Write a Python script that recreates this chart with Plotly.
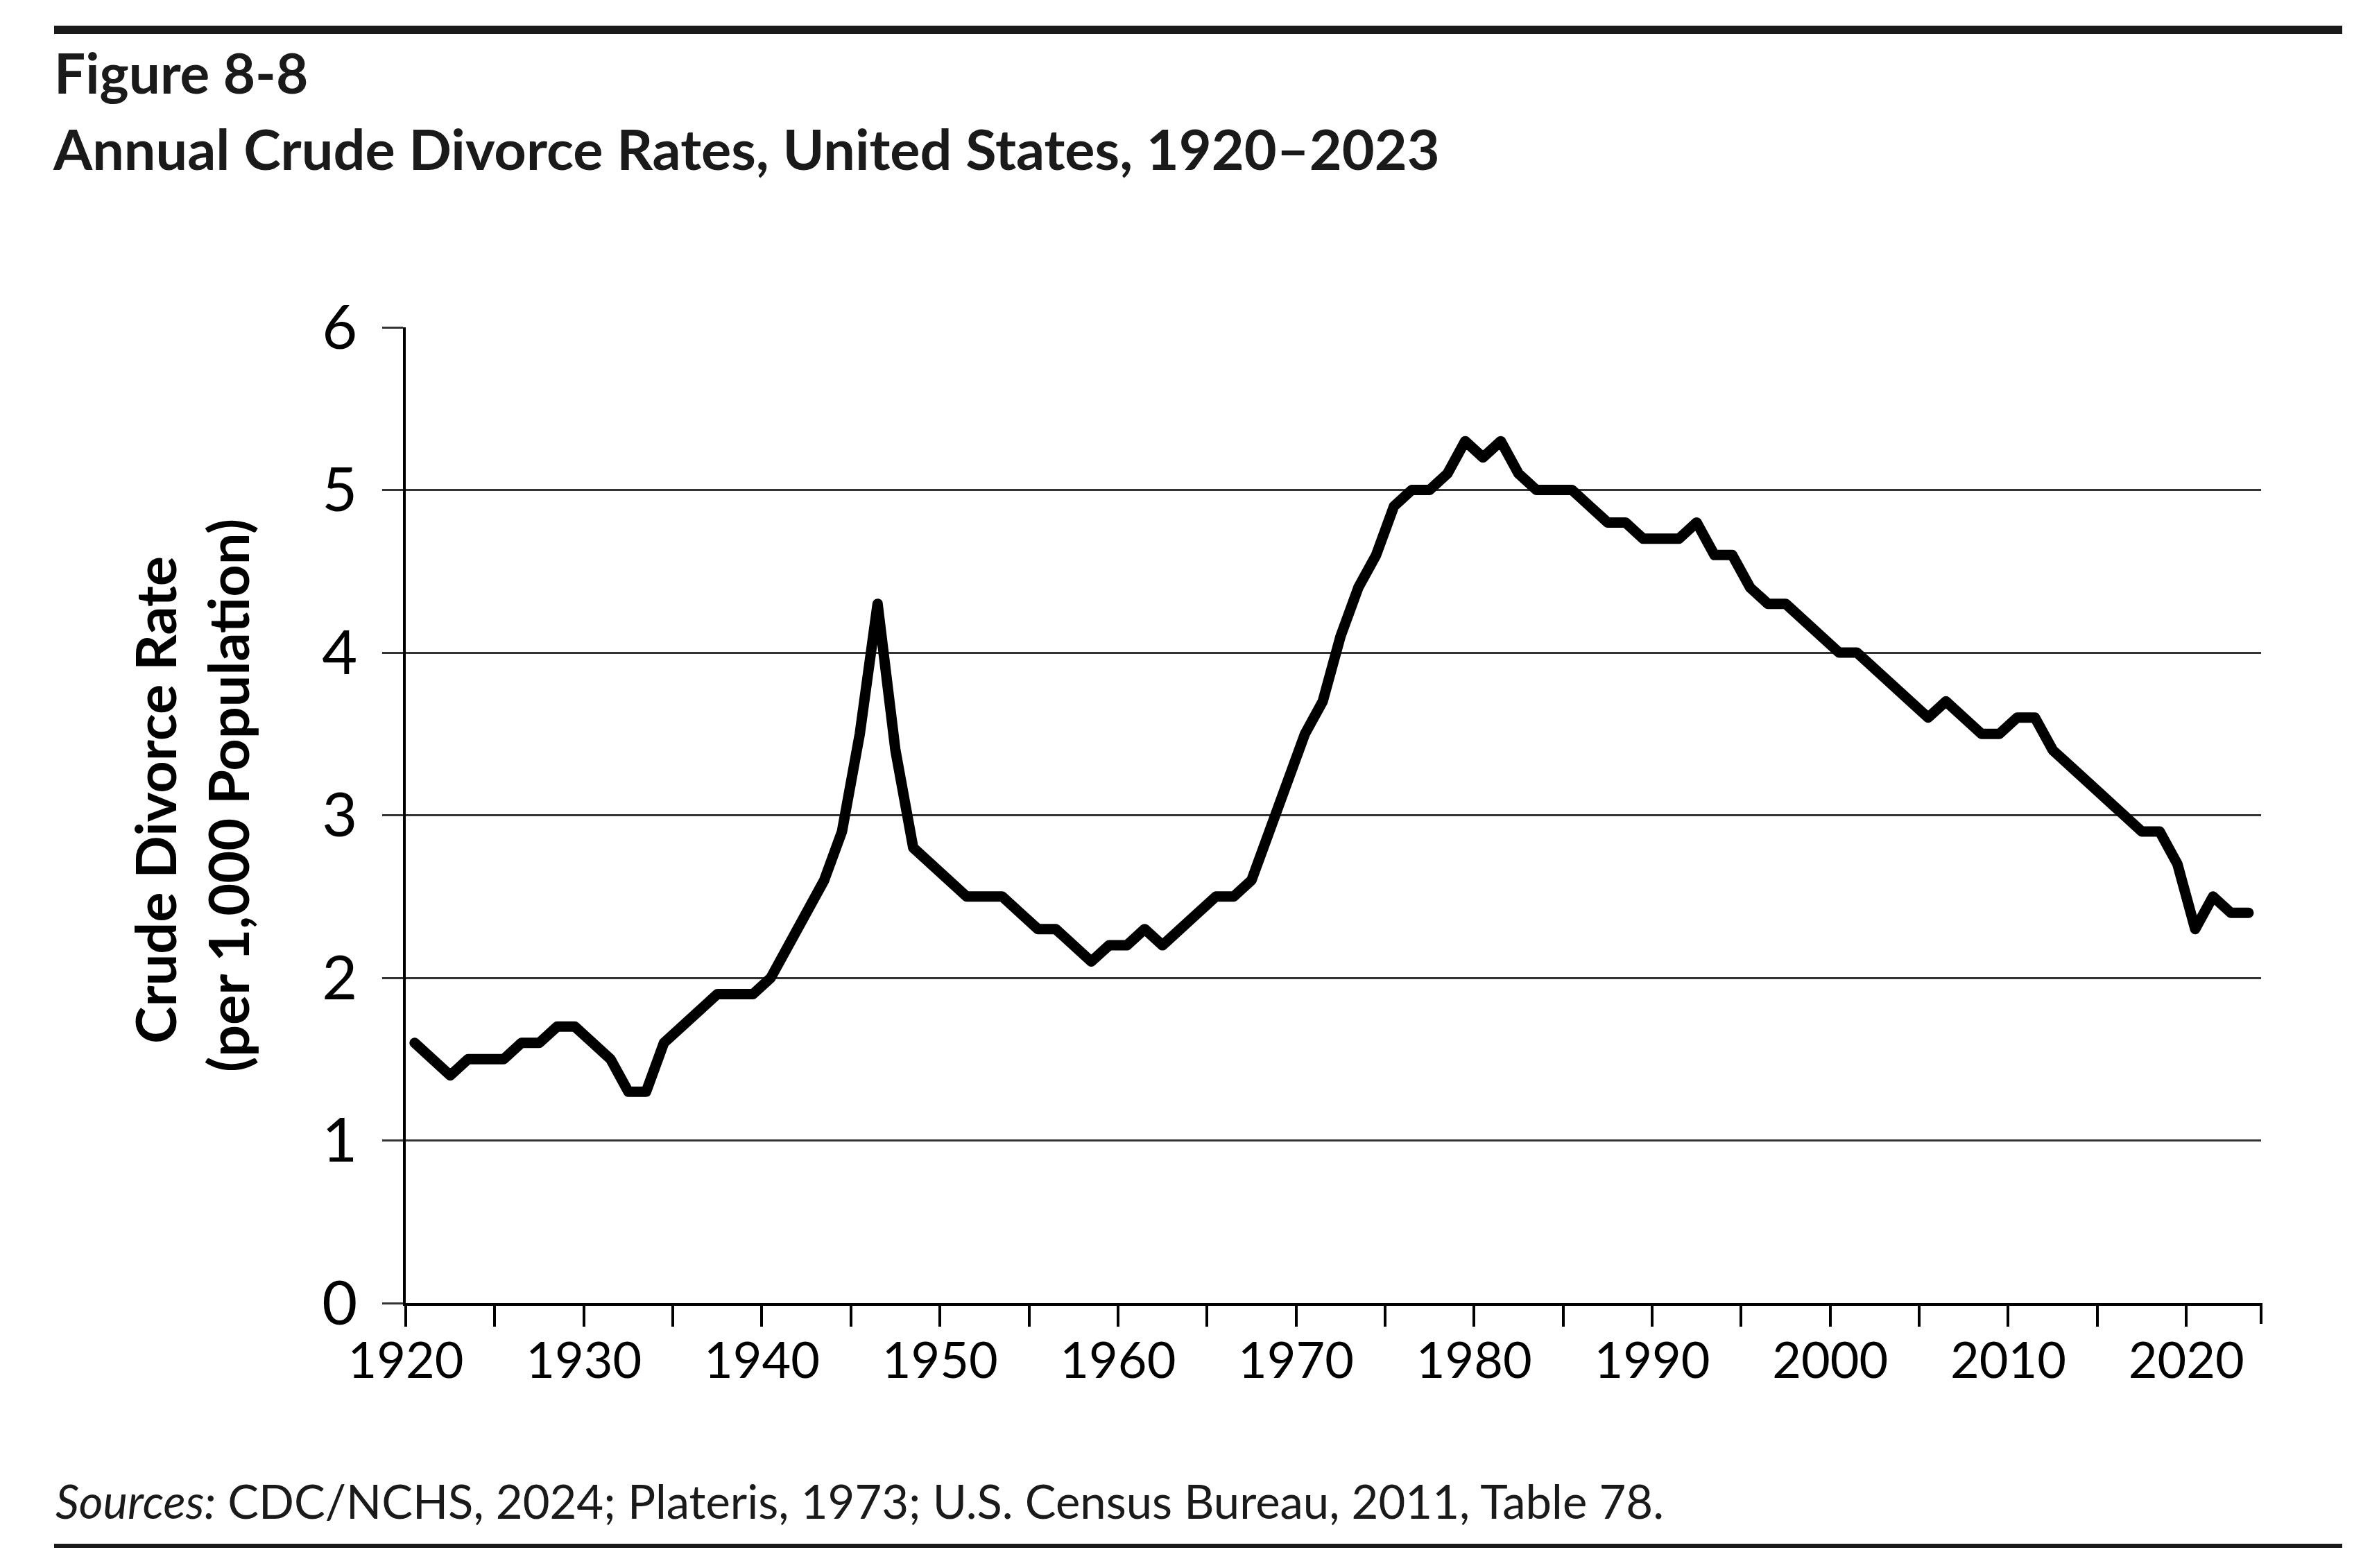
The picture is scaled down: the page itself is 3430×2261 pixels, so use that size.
import plotly.graph_objects as go

# Annual crude divorce rate per 1,000 population, United States
years = list(range(1920, 2024))
rates = [
    1.6, 1.5, 1.4, 1.5, 1.5, 1.5, 1.6, 1.6, 1.7, 1.7,   # 1920s
    1.6, 1.5, 1.3, 1.3, 1.6, 1.7, 1.8, 1.9, 1.9, 1.9,   # 1930s
    2.0, 2.2, 2.4, 2.6, 2.9, 3.5, 4.3, 3.4, 2.8, 2.7,   # 1940s
    2.6, 2.5, 2.5, 2.5, 2.4, 2.3, 2.3, 2.2, 2.1, 2.2,   # 1950s
    2.2, 2.3, 2.2, 2.3, 2.4, 2.5, 2.5, 2.6, 2.9, 3.2,   # 1960s
    3.5, 3.7, 4.1, 4.4, 4.6, 4.9, 5.0, 5.0, 5.1, 5.3,   # 1970s
    5.2, 5.3, 5.1, 5.0, 5.0, 5.0, 4.9, 4.8, 4.8, 4.7,   # 1980s
    4.7, 4.7, 4.8, 4.6, 4.6, 4.4, 4.3, 4.3, 4.2, 4.1,   # 1990s
    4.0, 4.0, 3.9, 3.8, 3.7, 3.6, 3.7, 3.6, 3.5, 3.5,   # 2000s
    3.6, 3.6, 3.4, 3.3, 3.2, 3.1, 3.0, 2.9, 2.9, 2.7,   # 2010s
    2.3, 2.5, 2.4, 2.4,                                 # 2020s
]
label_years = list(range(1920, 2021, 10))

W, H = 3430, 2261
L, R, T, B = 577, 3252, 464, 1871   # plot area in pixels
FONT = "Lato"
INK = "#1a1a1a"


def px(x):
    return (x - L) / (R - L)


def py(y):
    return (B - y) / (B - T)


fig = go.Figure()
# annual values plotted at mid-year
fig.add_trace(go.Scatter(
    x=[y + 0.5 for y in years], y=rates, mode="lines",
    line=dict(color="black", width=15), hoverinfo="x+y", showlegend=False,
))

fig.update_layout(
    width=W, height=H,
    margin=dict(l=L, r=W - R, t=T, b=H - B),
    paper_bgcolor="white", plot_bgcolor="white",
    font=dict(family=FONT, color=INK),
    xaxis=dict(
        range=[1920, 2024.2], tickvals=label_years,
        ticktext=[str(y) for y in label_years],
        ticks="outside", ticklen=30, tickwidth=4, tickcolor="black",
        minor=dict(tick0=1920, dtick=5, ticks="outside", ticklen=30,
                   tickwidth=4, tickcolor="black", showgrid=False),
        showline=True, linecolor="black", linewidth=4,
        showgrid=False, zeroline=False, ticklabelstandoff=-12,
        tickfont=dict(size=72, family=FONT, color="black"),
    ),
    yaxis=dict(
        range=[0, 6], dtick=1, tick0=0,
        ticks="outside", ticklen=30, tickwidth=2.5, tickcolor="#333",
        showline=True, linecolor="black", linewidth=4,
        showgrid=True, gridcolor="#333", gridwidth=2.5, zeroline=False,
        ticklabelstandoff=18,
        tickfont=dict(size=88, family=FONT, color="black"),
    ),
)

# closing tick at the right end of the x axis
fig.add_shape(type="line", xref="x domain", yref="y domain",
              x0=1, x1=1, y0=0, y1=-30 / (B - T),
              line=dict(color="black", width=4))

# heavy rules above the title and below the source note
fig.add_shape(type="rect", xref="paper", yref="paper",
              x0=px(70), x1=px(3369), y0=py(41), y1=py(29),
              fillcolor=INK, line=dict(width=0))
fig.add_shape(type="rect", xref="paper", yref="paper",
              x0=px(70), x1=px(3369), y0=py(2224), y1=py(2218),
              fillcolor=INK, line=dict(width=0))

fig.add_annotation(text="<b>Figure 8-8</b>", xref="paper", yref="paper",
                   x=px(68), y=py(96), xanchor="left", yanchor="middle",
                   showarrow=False, font=dict(size=80, family=FONT, color=INK))
fig.add_annotation(text="<b>Annual Crude Divorce Rates, United States, 1920–2023</b>",
                   xref="paper", yref="paper",
                   x=px(66), y=py(205), xanchor="left", yanchor="middle",
                   showarrow=False, font=dict(size=81, family=FONT, color=INK))

fig.add_annotation(text="<b>Crude Divorce Rate</b>", xref="paper", yref="paper",
                   x=px(214), y=py(1146), xanchor="center", yanchor="middle",
                   textangle=-90, showarrow=False,
                   font=dict(size=81, family=FONT, color="black"))
fig.add_annotation(text="<b>(per 1,000 Population)</b>", xref="paper", yref="paper",
                   x=px(319), y=py(1139), xanchor="center", yanchor="middle",
                   textangle=-90, showarrow=False,
                   font=dict(size=81, family=FONT, color="black"))

fig.add_annotation(
    text="<i>Sources:</i> CDC/NCHS, 2024; Plateris, 1973; U.S. Census Bureau, 2011, Table 78.",
    xref="paper", yref="paper", x=px(70), y=py(2156),
    xanchor="left", yanchor="middle", showarrow=False,
    font=dict(size=67, family=FONT, color=INK))

# rounded joins on the data line, as in the printed figure
round_joins = ("document.querySelectorAll('path.js-line').forEach(function(p){"
               "p.style.strokeLinejoin='round';p.style.strokeLinecap='round';});")

fig.write_html("out.html", post_script=round_joins)
